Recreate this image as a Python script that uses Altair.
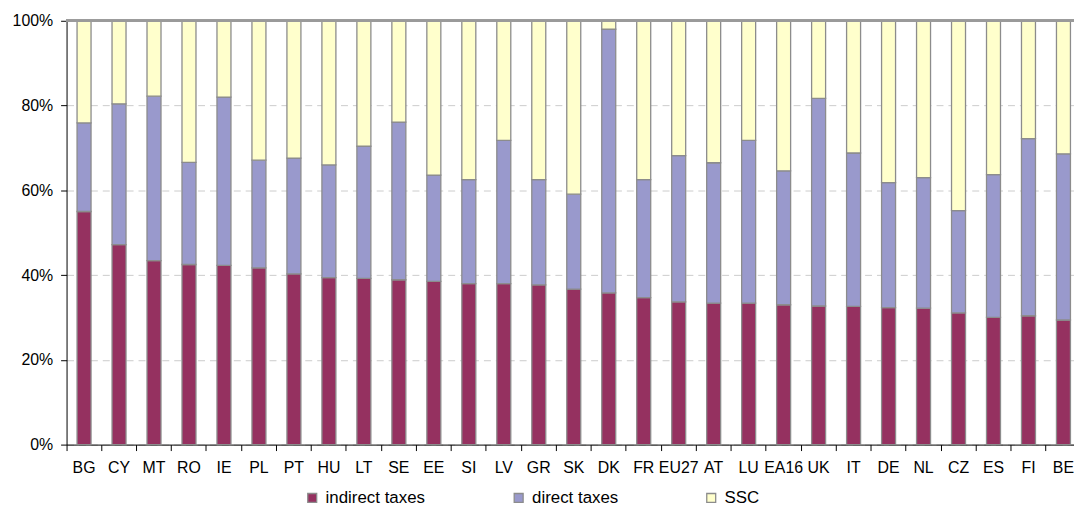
import altair as alt
import pandas as pd

countries = ["BG", "CY", "MT", "RO", "IE", "PL", "PT", "HU", "LT", "SE", "EE", "SI", "LV", "GR",
             "SK", "DK", "FR", "EU27", "AT", "LU", "EA16", "UK", "IT", "DE", "NL", "CZ", "ES", "FI", "BE"]
indirect = [55.0, 47.2, 43.4, 42.5, 42.3, 41.7, 40.3, 39.4, 39.2, 38.9, 38.5, 38.0, 38.0, 37.7,
            36.7, 35.8, 34.7, 33.7, 33.4, 33.4, 33.0, 32.7, 32.6, 32.3, 32.2, 31.1, 30.0, 30.4, 29.4]
direct = [20.9, 33.2, 38.8, 24.1, 39.7, 25.4, 27.3, 26.6, 31.2, 37.2, 25.1, 24.5, 33.8, 24.8,
          22.4, 62.2, 27.8, 34.5, 33.1, 38.4, 31.6, 49.0, 36.2, 29.5, 30.8, 24.1, 33.7, 41.8, 39.2]
ssc = [24.1, 19.6, 17.8, 33.4, 18.0, 32.9, 32.4, 34.0, 29.6, 23.9, 36.4, 37.5, 28.2, 37.5,
       40.9, 2.0, 37.5, 31.8, 33.5, 28.2, 35.4, 18.3, 31.2, 38.2, 37.0, 44.8, 36.3, 27.8, 31.4]

series = ["indirect taxes", "direct taxes", "SSC"]
colors = ["#953160", "#9999CC", "#FFFFCC"]

rows = []
for i, c in enumerate(countries):
    for k, (name, vals) in enumerate(zip(series, [indirect, direct, ssc])):
        rows.append({"country": c, "series": name, "value": vals[i], "ord": k})
df = pd.DataFrame(rows)

FONT = "Liberation Sans"

bars = alt.Chart(df).mark_bar(
    width=alt.RelativeBandSize(0.4), stroke="#8c8c8c", strokeWidth=1.3
).encode(
    x=alt.X("country:N", sort=countries,
            scale=alt.Scale(range=[0, 1022], paddingInner=0, paddingOuter=0),
            axis=alt.Axis(title=None, labelAngle=0, bandPosition=0,
                          tickSize=6, labelPadding=9, domainColor="black", tickColor="black",
                          labelFont=FONT, labelFontSize=16, labelColor="black", grid=False)),
    y=alt.Y("value:Q", stack="normalize", scale=alt.Scale(domain=[0, 1]),
            axis=alt.Axis(title=None, format=".0%", values=[0, 0.2, 0.4, 0.6, 0.8, 1.0],
                          grid=True, gridDash=[7, 5], gridColor="#cccccc",
                          tickSize=6, labelPadding=8, domainColor="black", tickColor="black",
                          labelFont=FONT, labelFontSize=16, labelColor="black")),
    color=alt.Color("series:N", sort=series,
                    scale=alt.Scale(domain=series, range=colors),
                    legend=alt.Legend(title=None, orient="none", legendX=239, legendY=472,
                                      direction="horizontal", symbolType="square",
                                      symbolSize=81, symbolStrokeColor="#8c8c8c",
                                      symbolStrokeWidth=1.3, labelFont=FONT, labelFontSize=17,
                                      labelColor="black", columnPadding=85, labelOffset=5,
                                      padding=0)),
    order=alt.Order("ord:Q"),
)

top = alt.Chart(df).mark_rule(color="#9a9a9a", strokeWidth=2).encode(y=alt.datum(1))

chart = alt.layer(bars, top).properties(
    width=1015, height=427,
    autosize=alt.AutoSizeParams(type="none"),
    padding={"left": 59, "top": 11, "right": 0, "bottom": 63},
).configure_view(stroke=None)

chart.save("out.html", embed_options={"renderer": "svg", "actions": False})
